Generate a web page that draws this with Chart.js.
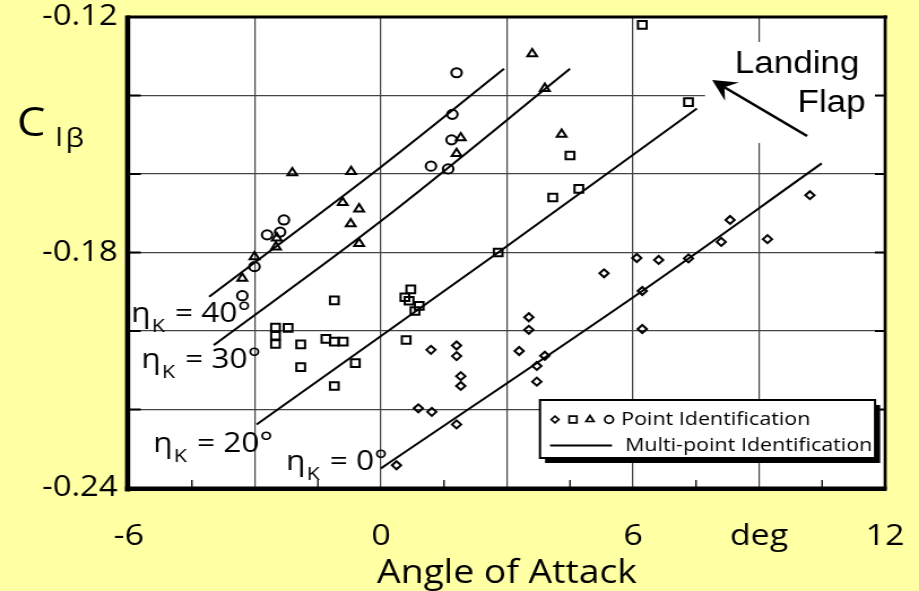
<!DOCTYPE html>
<html>
<head>
<meta charset="utf-8">
<script src="https://cdn.jsdelivr.net/npm/chart.js@4.4.1/dist/chart.umd.min.js"></script>
<style>
  html, body { margin: 0; padding: 0; background: #FFFFA3; overflow: hidden; }
  #wrap { width: 813px; height: 591px; transform: scaleX(1.1304); transform-origin: 0 0; }
  canvas { display: block; }
</style>
</head>
<body>
<div id="wrap"><canvas id="chart" width="813" height="591"></canvas></div>
<script>
// Point identification, flap deflection 0 deg (diamonds)
const eta0X = [1.19, 1.80, 1.80, 1.90, 1.90, 0.89, 1.21, 1.80, 0.37, 3.29, 3.52, 3.52, 3.90, 3.71, 3.71,
               5.31, 6.09, 6.61, 7.32, 6.22, 6.22, 8.10, 8.31, 9.20, 10.21];
const eta0Y = [-0.2048, -0.2037, -0.2064, -0.2115, -0.2140, -0.2197, -0.2206, -0.2238, -0.2342, -0.2051,
               -0.1965, -0.1997, -0.2063, -0.2089, -0.2129, -0.1853, -0.1814, -0.1819, -0.1815, -0.1898,
               -0.1995, -0.1773, -0.1717, -0.1766, -0.1654];
// Point identification, flap deflection 20 deg (squares)
const eta20X = [6.22, 7.32, 4.50, 4.71, 4.09, 2.79, -1.11, 0.71, 0.57, 0.67, 0.91, 0.81, -2.51, -2.21,
                -2.51, -2.51, -1.91, -1.31, -1.11, -0.90, -1.91, -0.61, -1.11, 0.60];
const eta20Y = [-0.1220, -0.1417, -0.1553, -0.1638, -0.1660, -0.1800, -0.1922, -0.1894, -0.1914, -0.1923,
                -0.1936, -0.1949, -0.1991, -0.1992, -0.2012, -0.2033, -0.2034, -0.2020, -0.2027, -0.2027,
                -0.2092, -0.2082, -0.2140, -0.2023];
// Point identification, flap deflection 30 deg (triangles)
const eta30X = [-2.11, -0.71, -0.91, -0.52, -0.72, -0.52, 1.90, 1.80, -2.48, -2.50, -3.01, -3.30, 3.60, 3.90, 4.30];
const eta30Y = [-0.1597, -0.1594, -0.1673, -0.1689, -0.1727, -0.1777, -0.1508, -0.1548, -0.1763, -0.1786,
                -0.1811, -0.1866, -0.1294, -0.1382, -0.1499];
// Point identification, flap deflection 40 deg (circles)
const eta40X = [1.80, 1.70, 1.68, 1.19, 1.60, -2.31, -2.71, -2.40, -3.01, -3.30];
const eta40Y = [-0.1342, -0.1448, -0.1513, -0.1580, -0.1587, -0.1717, -0.1755, -0.1748, -0.1836, -0.1910];

// Multi-point identification curves
const fit0X = [0.00, 6.22, 10.49];   const fit0Y = [-0.2350, -0.1898, -0.1573];
const fit20X = [-2.96, 2.79, 7.52];  const fit20Y = [-0.2238, -0.1800, -0.1433];
const fit30X = [-3.98, 0.00, 4.50];  const fit30Y = [-0.2036, -0.1720, -0.1332];
const fit40X = [-4.09, 0.00, 2.93];  const fit40Y = [-0.1913, -0.1582, -0.1332];

// Axis ticks and texts
const xTickValues = [-6, 0, 6, 9, 12];
const xTickLabels = ['-6', '0', '6', 'deg', '12'];
const yTickValues = [-0.24, -0.18, -0.12];
const yTickLabels = ['-0.24', '-0.18', '-0.12'];
const xTitle = 'Angle of Attack';
const yTitle = ['C', 'l', 'β'];
const flapTexts = ['= 40°', '= 30°', '= 20°', '= 0°'];
const legendLabels = ['Point Identification', 'Multi-point Identification'];
const noteLines = ['Landing', 'Flap'];

const FONT = '"Open Sans", "Noto Sans", sans-serif';
const pts = (xs, ys) => xs.map((x, i) => ({ x: x, y: ys[i] }));

const markerStyle = (style, r) => ({
  showLine: false, pointStyle: style, pointRadius: r, pointHoverRadius: r,
  pointBorderColor: '#000', pointBackgroundColor: 'rgba(0,0,0,0)', pointBorderWidth: 2
});
const fitStyle = {
  showLine: true, pointRadius: 0, pointHoverRadius: 0, borderColor: '#000', borderWidth: 2,
  tension: 0.35, fill: false
};

const markerSets = [
  Object.assign({ label: 'eta0', data: pts(eta0X, eta0Y) }, markerStyle('rectRot', 4.0)),
  Object.assign({ label: 'eta20', data: pts(eta20X, eta20Y) }, markerStyle('rect', 5.4)),
  Object.assign({ label: 'eta30', data: pts(eta30X, eta30Y) }, markerStyle('triangle', 4.9)),
  Object.assign({ label: 'eta40', data: pts(eta40X, eta40Y) }, markerStyle('circle', 4.6))
];
const fitSets = [
  Object.assign({ label: 'fit0', data: pts(fit0X, fit0Y) }, fitStyle),
  Object.assign({ label: 'fit20', data: pts(fit20X, fit20Y) }, fitStyle),
  Object.assign({ label: 'fit30', data: pts(fit30X, fit30Y) }, fitStyle),
  Object.assign({ label: 'fit40', data: pts(fit40X, fit40Y) }, fitStyle)
];

function drawMarker(ctx, style, r, x, y) {
  if (Chart.helpers && Chart.helpers.drawPoint) {
    Chart.helpers.drawPoint(ctx, { pointStyle: style, radius: r, rotation: 0, borderWidth: 1.6 }, x, y);
  }
}

function flapLabel(ctx, x, y, text) {
  ctx.font = '28px ' + FONT;
  ctx.fillText('η', x, y);
  const w = ctx.measureText('η').width;
  ctx.font = '19px ' + FONT;
  ctx.fillText('K', x + w + 1, y + 10);
  const wk = ctx.measureText('K').width;
  ctx.font = '28px ' + FONT;
  ctx.fillText(text, x + w + wk + 10, y);
}

const decor = {
  id: 'decor',
  beforeDraw(chart) {
    const { ctx, chartArea: a } = chart;
    ctx.save();
    ctx.fillStyle = '#ffffff';
    ctx.fillRect(a.left, a.top, a.right - a.left, a.bottom - a.top);
    ctx.restore();
  },
  afterDatasetsDraw(chart) {
    const ctx = chart.ctx;
    ctx.save();
    ctx.fillStyle = '#000';
    ctx.textBaseline = 'alphabetic';
    ctx.textAlign = 'left';

    // flap deflection labels
    flapLabel(ctx, 116, 322, flapTexts[0]);
    flapLabel(ctx, 125, 368, flapTexts[1]);
    flapLabel(ctx, 135.5, 452, flapTexts[2]);
    flapLabel(ctx, 253, 470, flapTexts[3]);

    // landing flap note with arrow
    ctx.fillStyle = '#fff';
    ctx.fillRect(623.7, 42, 150.4, 101);
    ctx.fillStyle = '#000';
    ctx.font = '31px "Liberation Sans", Arial, sans-serif';
    ctx.fillText(noteLines[0], 650, 73);
    ctx.fillText(noteLines[1], 705.5, 112);

    const tail = { x: 714, y: 136 }, tip = { x: 630, y: 80 };
    const dx = tip.x - tail.x, dy = tip.y - tail.y, len = Math.hypot(dx, dy);
    const ux = dx / len, uy = dy / len, px = -uy, py = ux;
    const L = 21, W = 11;
    const nx = tip.x - ux * L * 0.62, ny = tip.y - uy * L * 0.62;
    ctx.strokeStyle = '#000';
    ctx.lineWidth = 2.6;
    ctx.beginPath();
    ctx.moveTo(tail.x, tail.y);
    ctx.lineTo(nx, ny);
    ctx.stroke();
    ctx.beginPath();
    ctx.moveTo(tip.x, tip.y);
    ctx.lineTo(tip.x - ux * L + px * W, tip.y - uy * L + py * W);
    ctx.lineTo(nx, ny);
    ctx.lineTo(tip.x - ux * L - px * W, tip.y - uy * L - py * W);
    ctx.closePath();
    ctx.fill();

    // legend box
    const bx = 477.7, by = 400, bw = 296.4, bh = 58;
    ctx.fillStyle = '#000';
    ctx.fillRect(bx + 4.5, by + 5, bw, bh);
    ctx.fillStyle = '#fff';
    ctx.fillRect(bx, by, bw, bh);
    ctx.lineWidth = 2;
    ctx.strokeStyle = '#000';
    ctx.strokeRect(bx, by, bw, bh);

    const symX = [491, 506.9, 521.9, 538.8];
    const symR = [3.4, 4.8, 4.0, 3.8];
    ctx.strokeStyle = '#000';
    ctx.fillStyle = 'rgba(0,0,0,0)';
    markerSets.forEach((ds, i) => {
      ctx.lineWidth = 1.7;
      drawMarker(ctx, ds.pointStyle, symR[i], symX[i], 419.5);
    });
    ctx.lineWidth = 2;
    ctx.beginPath();
    ctx.moveTo(486.6, 445.5);
    ctx.lineTo(541.4, 445.5);
    ctx.stroke();

    ctx.fillStyle = '#000';
    ctx.font = '19px ' + FONT;
    ctx.textBaseline = 'middle';
    ctx.fillText(legendLabels[0], 549.5, 420);
    ctx.fillText(legendLabels[1], 553, 446);
    ctx.restore();
  },
  afterDraw(chart) {
    const { ctx, chartArea: a, scales } = chart;
    ctx.save();
    ctx.fillStyle = '#000';
    // frame
    ctx.fillRect(a.left - 2, a.top - 1.5, a.right - a.left + 4, 3);
    ctx.fillRect(a.right - 1.3, a.top - 1.5, 2.7, a.bottom - a.top + 3);
    ctx.fillRect(a.left - 3.4, a.top - 1.5, 4.6, a.bottom - a.top + 5);
    ctx.fillRect(a.left - 3.4, a.bottom - 1.5, a.right - a.left + 4.8, 4.5);

    // inward tick marks
    ctx.strokeStyle = '#000';
    ctx.lineWidth = 2;
    scales.y.ticks.forEach(t => {
      const y = scales.y.getPixelForValue(t.value);
      ctx.beginPath();
      ctx.moveTo(a.left, y); ctx.lineTo(a.left + 10.5, y);
      ctx.moveTo(a.right - 9, y); ctx.lineTo(a.right, y);
      ctx.stroke();
    });
    ctx.lineWidth = 1.3;
    const xt = scales.x.ticks;
    for (let i = 0; i < xt.length - 1; i++) {
      const x = scales.x.getPixelForValue((xt[i].value + xt[i + 1].value) / 2);
      ctx.beginPath();
      ctx.moveTo(x, a.bottom); ctx.lineTo(x, a.bottom - 8);
      ctx.stroke();
    }

    // y axis title
    ctx.textBaseline = 'alphabetic';
    ctx.textAlign = 'left';
    ctx.font = '40px ' + FONT;
    ctx.fillText(yTitle[0], 15, 136);
    ctx.font = '26px ' + FONT;
    ctx.fillText(yTitle[1], 49, 146);
    ctx.fillText(yTitle[2], 58, 147);
    ctx.restore();
  }
};

// keep the plot frame at a fixed place regardless of label overflow
const noOverflow = s => { s.paddingLeft = 0; s.paddingRight = 0; s.paddingTop = 0; s.paddingBottom = 0; };

new Chart(document.getElementById('chart'), {
  type: 'scatter',
  data: { datasets: markerSets.concat(fitSets) },
  options: {
    responsive: false,
    animation: false,
    devicePixelRatio: 1,
    layout: { padding: { left: 0, right: 30, top: 17, bottom: 0 } },
    plugins: { legend: { display: false }, tooltip: { enabled: false } },
    scales: {
      x: {
        type: 'linear', min: -6, max: 12,
        afterFit: s => { s.height = 103; noOverflow(s); },
        border: { display: false },
        grid: { color: '#444', lineWidth: 1.2, drawTicks: false },
        ticks: {
          stepSize: 3, autoSkip: false, maxRotation: 0, padding: 33, color: '#000',
          font: { family: FONT, size: 30, lineHeight: 1 },
          callback: v => { const i = xTickValues.indexOf(v); return i < 0 ? '' : xTickLabels[i]; }
        },
        title: {
          display: true, text: xTitle, color: '#000',
          font: { family: FONT, size: 33, lineHeight: 1 },
          padding: { top: 0, bottom: 1 }
        }
      },
      y: {
        type: 'linear', min: -0.24, max: -0.12,
        afterFit: s => { s.width = 114; noOverflow(s); },
        border: { display: false },
        grid: { color: '#444', lineWidth: 1.2, drawTicks: false },
        ticks: {
          stepSize: 0.02, autoSkip: false, padding: 10, color: '#000',
          font: { family: FONT, size: 29, lineHeight: 1 },
          callback: v => {
            const i = yTickValues.findIndex(t => Math.abs(t - v) < 1e-6);
            return i < 0 ? '' : yTickLabels[i];
          }
        }
      }
    }
  },
  plugins: [decor]
});
</script>
</body>
</html>
